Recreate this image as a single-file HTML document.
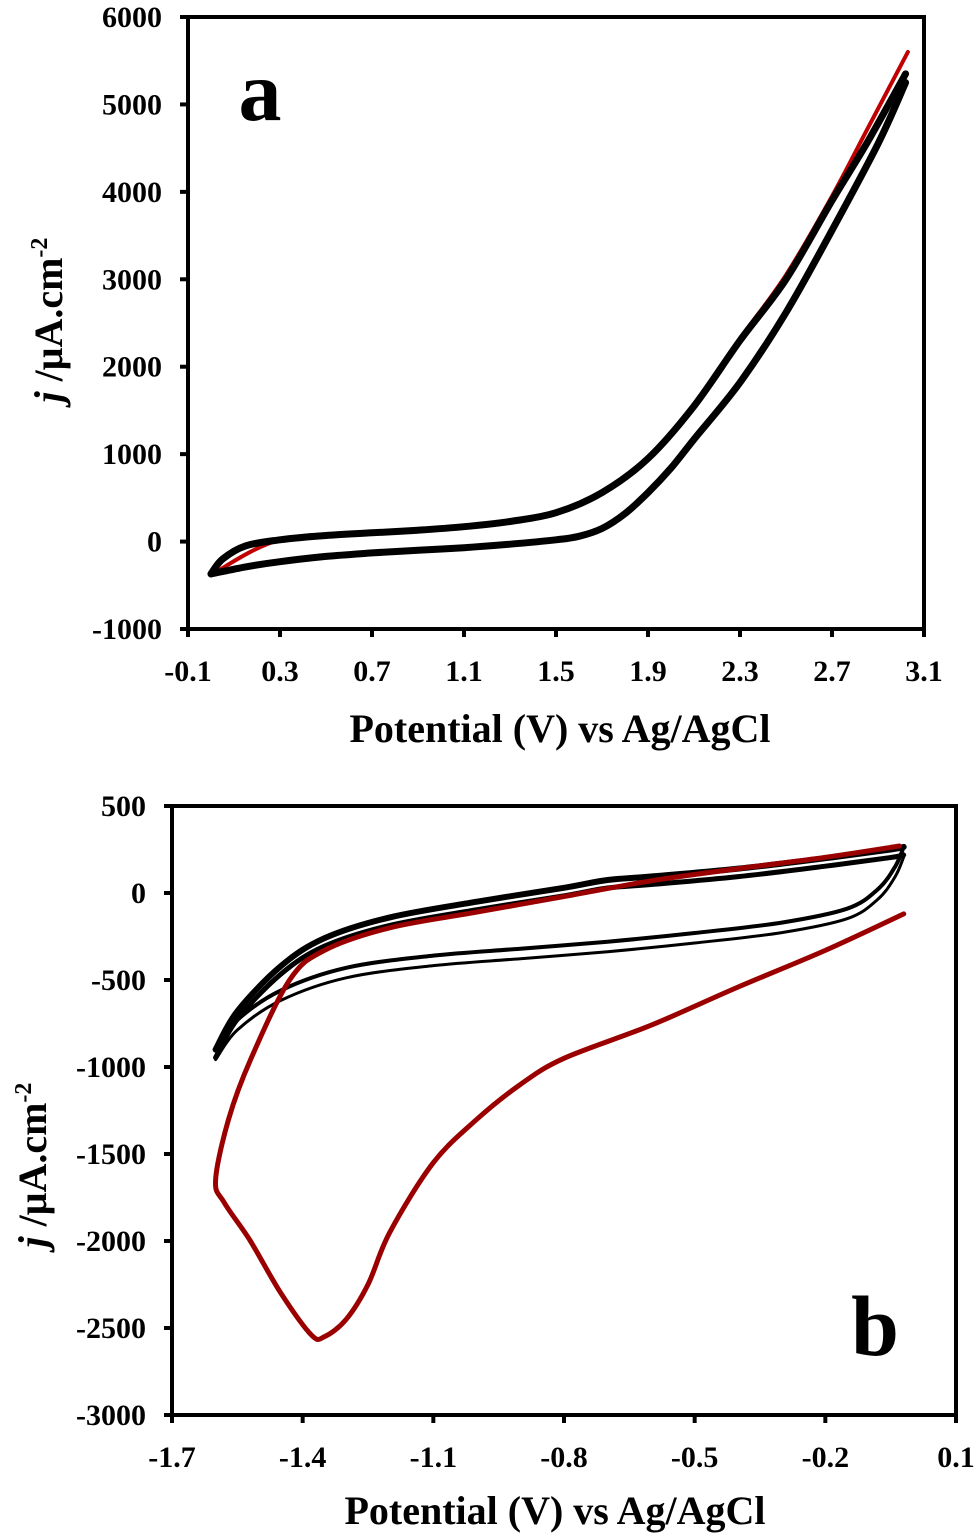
<!DOCTYPE html>
<html><head><meta charset="utf-8"><style>
html,body{margin:0;padding:0;background:#fff;}
svg{display:block;font-family:"Liberation Serif",serif;font-weight:bold;}
</style></head><body>
<svg id="c" width="975" height="1536" viewBox="0 0 975 1536" xmlns="http://www.w3.org/2000/svg"></svg>
<script>
// ---- Panel a data ----
const aXTicks = [-0.1,0.3,0.7,1.1,1.5,1.9,2.3,2.7,3.1];
const aYTicks = [-1000,0,1000,2000,3000,4000,5000,6000];
const aFwdV = [0.0,0.15,0.3,0.5,0.7,0.9,1.1,1.3,1.5,1.6,1.7,1.8,1.9,2.0,2.1,2.3,2.5,2.7,2.9,3.02];
const aFwdJ = [-370,-290,-230,-170,-130,-100,-70,-30,20,60,150,320,560,840,1170,1820,2620,3560,4550,5250];
const aRevV = [3.02,2.85,2.7,2.5,2.3,2.1,1.9,1.7,1.5,1.3,1.1,0.9,0.7,0.5,0.3,0.15,0.05,0.0];
const aRevJ = [5350,4550,3900,3000,2300,1550,950,560,330,230,170,130,100,70,20,-50,-200,-370];
const aRedV = [3.03,2.85,2.7,2.5,2.3,2.1,1.9,1.7,1.5,1.3,1.1,0.7,0.3,0.0];
const aRedJ = [5600,4700,3950,3050,2320,1560,950,560,330,230,170,100,20,-380];
// ---- Panel b data ----
const bXTicks = [-1.7,-1.4,-1.1,-0.8,-0.5,-0.2,0.1];
const bYTicks = [-3000,-2500,-2000,-1500,-1000,-500,0,500];
const bUpV = [-1.6,-1.55,-1.45,-1.35,-1.2,-1.0,-0.8,-0.7,-0.6,-0.4,-0.2,-0.05,-0.02];
const bUpJ = [-900,-680,-420,-260,-140,-50,30,75,95,140,200,250,265];
const bDnV = [-0.02,-0.04,-0.08,-0.15,-0.3,-0.5,-0.7,-0.9,-1.1,-1.3,-1.45,-1.55,-1.6];
const bDnJ = [265,150,20,-90,-170,-230,-280,-320,-360,-430,-560,-730,-900];
const bRedV = [-0.02,-0.2,-0.4,-0.6,-0.8,-0.9,-1.0,-1.1,-1.2,-1.25,-1.3,-1.35,-1.38,-1.45,-1.52,-1.58,-1.6,-1.57,-1.52,-1.43,-1.35,-1.2,-1.0,-0.8,-0.6,-0.4,-0.2,-0.03];
const bRedJ = [-120,-330,-540,-760,-950,-1100,-1300,-1550,-1950,-2250,-2450,-2550,-2540,-2300,-2000,-1780,-1650,-1300,-960,-500,-330,-200,-110,-20,70,140,205,270];

const svg = document.getElementById('c');
const NS = 'http://www.w3.org/2000/svg';
function mk(tag, attrs, parent){const e=document.createElementNS(NS,tag);for(const k in attrs)e.setAttribute(k,attrs[k]);(parent||svg).appendChild(e);return e;}
function smooth(pts){let d='M'+pts[0][0]+','+pts[0][1];for(let i=0;i<pts.length-1;i++){const p0=pts[i-1]||pts[i],p1=pts[i],p2=pts[i+1],p3=pts[i+2]||p2;
const c1=[p1[0]+(p2[0]-p0[0])/6,p1[1]+(p2[1]-p0[1])/6],c2=[p2[0]-(p3[0]-p1[0])/6,p2[1]-(p3[1]-p1[1])/6];
d+=' C'+c1[0].toFixed(1)+','+c1[1].toFixed(1)+' '+c2[0].toFixed(1)+','+c2[1].toFixed(1)+' '+p2[0].toFixed(1)+','+p2[1].toFixed(1);}return d;}

function panel(o){
  const g=mk('g',{});
  
  
  const sx=v=>o.x0+(v-o.xmin)/(o.xmax-o.xmin)*(o.x1-o.x0);
  const sy=v=>o.y1-(v-o.ymin)/(o.ymax-o.ymin)*(o.y1-o.y0);
  o.series.forEach(s=>{
    const p=mk('path',{d:smooth(s.v.map((v,i)=>[sx(v)+(s.dx||0),sy(s.j[i])+(s.dy||0)])),fill:'none',stroke:s.c,'stroke-width':s.w,'stroke-linejoin':'round','stroke-linecap':'round'},g);
    
    
  });
  const fr=mk('rect',{x:o.x0,y:o.y0,width:o.x1-o.x0,height:o.y1-o.y0,fill:'none',stroke:'#000','stroke-width':4},g);
  
  
  o.xt.forEach(v=>{
    mk('line',{x1:sx(v),x2:sx(v),y1:o.y1,y2:o.y1+8,stroke:'#000','stroke-width':4},g);
    const t=mk('text',{x:sx(v),y:o.y1+52,'text-anchor':'middle','font-size':30},g);t.textContent=v.toFixed(1);
    
    
  });
  o.yt.forEach(v=>{
    mk('line',{x1:o.x0-8,x2:o.x0,y1:sy(v),y2:sy(v),stroke:'#000','stroke-width':4},g);
    const t=mk('text',{x:o.x0-26,y:sy(v)+10,'text-anchor':'end','font-size':30},g);t.textContent=v;
    
    
  });
  const xt=mk('text',{x:o.xtx,y:o.xty,'text-anchor':'middle','font-size':40},g);xt.textContent='Potential (V) vs Ag/AgCl';
  
  
  const yt=mk('text',{x:0,y:0,'text-anchor':'middle','font-size':40,transform:'translate('+o.ytx+','+o.yty+') rotate(-90)'},g);
  yt.innerHTML='<tspan font-style="italic">j</tspan> /μA.cm<tspan font-size="24" dy="-15">-2</tspan>';
  
  
  const pl=mk('text',{x:o.lx,y:o.ly,'text-anchor':'middle','font-size':86},g);pl.textContent=o.label;
  
  
}
panel({name:'panel-a',x0:188,x1:924,y0:17,y1:629,xmin:-0.1,xmax:3.1,ymin:-1000,ymax:6000,xt:aXTicks,yt:aYTicks,
 series:[{v:aRedV,j:aRedJ,c:'#c00000',w:4,n:'red-cv-curve'},
 {v:aFwdV,j:aFwdJ,c:'#000',w:7,n:'black-forward-scan'},{v:aRevV,j:aRevJ,c:'#000',w:7,n:'black-reverse-scan'}],
 xtx:560,xty:742,ytx:62,yty:320,label:'a',lx:260,ly:120});
panel({name:'panel-b',x0:172,x1:956,y0:806,y1:1415,xmin:-1.7,xmax:0.1,ymin:-3000,ymax:500,xt:bXTicks,yt:bYTicks,
 series:[{v:bUpV,j:bUpJ,c:'#000',w:6,n:'black-anodic-scan'},{v:bUpV,j:bUpJ,c:'#000',w:5,dy:8,n:'black-anodic-scan-2'},
 {v:bDnV,j:bDnJ,c:'#000',w:4,n:'black-cathodic-scan'},{v:bDnV,j:bDnJ,c:'#000',w:3,dy:10,n:'black-cathodic-scan-2'},
 {v:bRedV,j:bRedJ,c:'#9b0000',w:5,n:'red-cv-curve'}],
 xtx:555,xty:1524,ytx:46,yty:1165,label:'b',lx:875,ly:1355});
</script>
</body></html>
